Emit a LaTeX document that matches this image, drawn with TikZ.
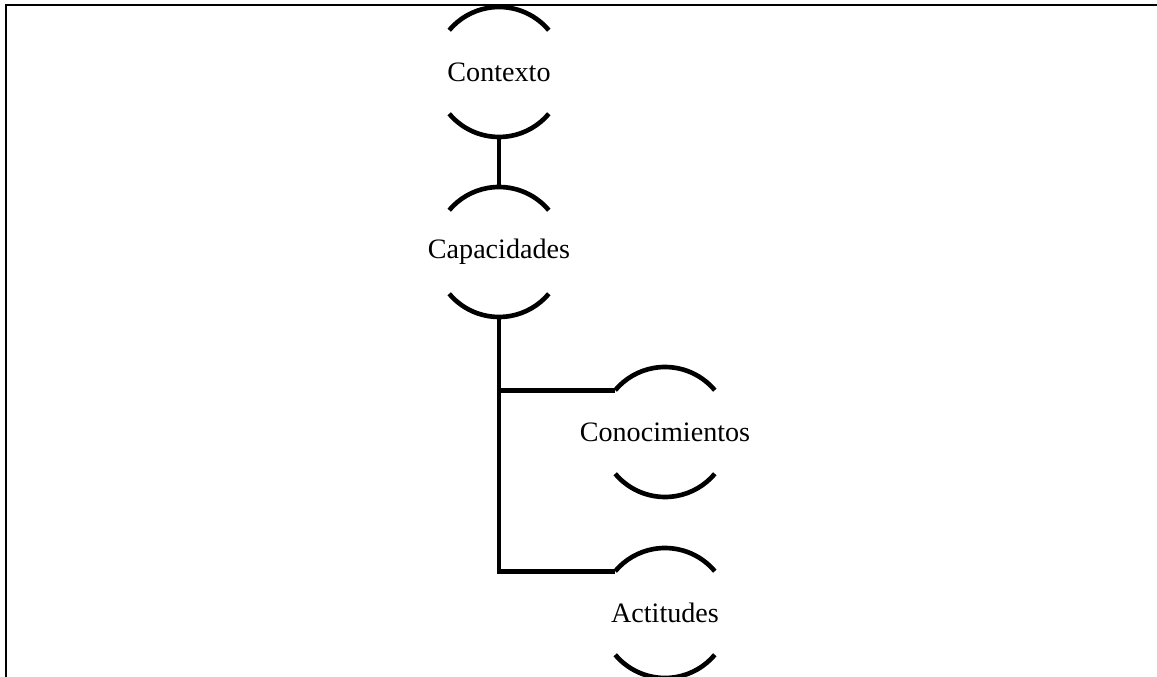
\documentclass[tikz,border=0pt]{standalone}
\usepackage{fontspec}
\setmainfont{Liberation Serif}
\usetikzlibrary{calc}

\tikzset{
  topic/.style={font=\fontsize{20}{24}\selectfont, inner sep=0pt},
  link/.style={line width=3.3pt},
  frame/.style={line width=1.5pt},
}
\newcommand{\rad}{65}
% open top and bottom arcs round a topic
\newcommand{\topicarcs}[1]{%
  \draw[link] ($(#1.center)+(40:\rad)$) arc[start angle=40,end angle=140,radius=\rad];
  \draw[link] ($(#1.center)+(220:\rad)$) arc[start angle=220,end angle=320,radius=\rad];
}

\begin{document}
\begin{tikzpicture}[x=0.025cm,y=0.025cm]
  \useasboundingbox (0,0) rectangle (1157,677);
  \draw[frame] (6,0) |- (1157,672);

  \node[topic] (ctx) at (499,605) {Contexto};
  \node[topic] (cap) at (499,425) {Capacidades};
  \node[topic] (con) at (665,245) {Conocimientos};
  \node[topic] (act) at (665,64) {Actitudes};

  \foreach \n in {ctx,cap,con,act} {\topicarcs{\n}}

  \coordinate (capfoot) at ($(cap.center)+(270:\rad)$);
  \coordinate (conhook) at ($(con.center)+(140:\rad)$);
  \coordinate (acthook) at ($(act.center)+(140:\rad)$);

  \draw[link] ($(ctx.center)+(270:\rad)$) -- ($(cap.center)+(90:\rad)$);
  \draw[link] (capfoot) |- (acthook);
  \draw[link] (capfoot |- conhook) -- (conhook);
\end{tikzpicture}
\end{document}
